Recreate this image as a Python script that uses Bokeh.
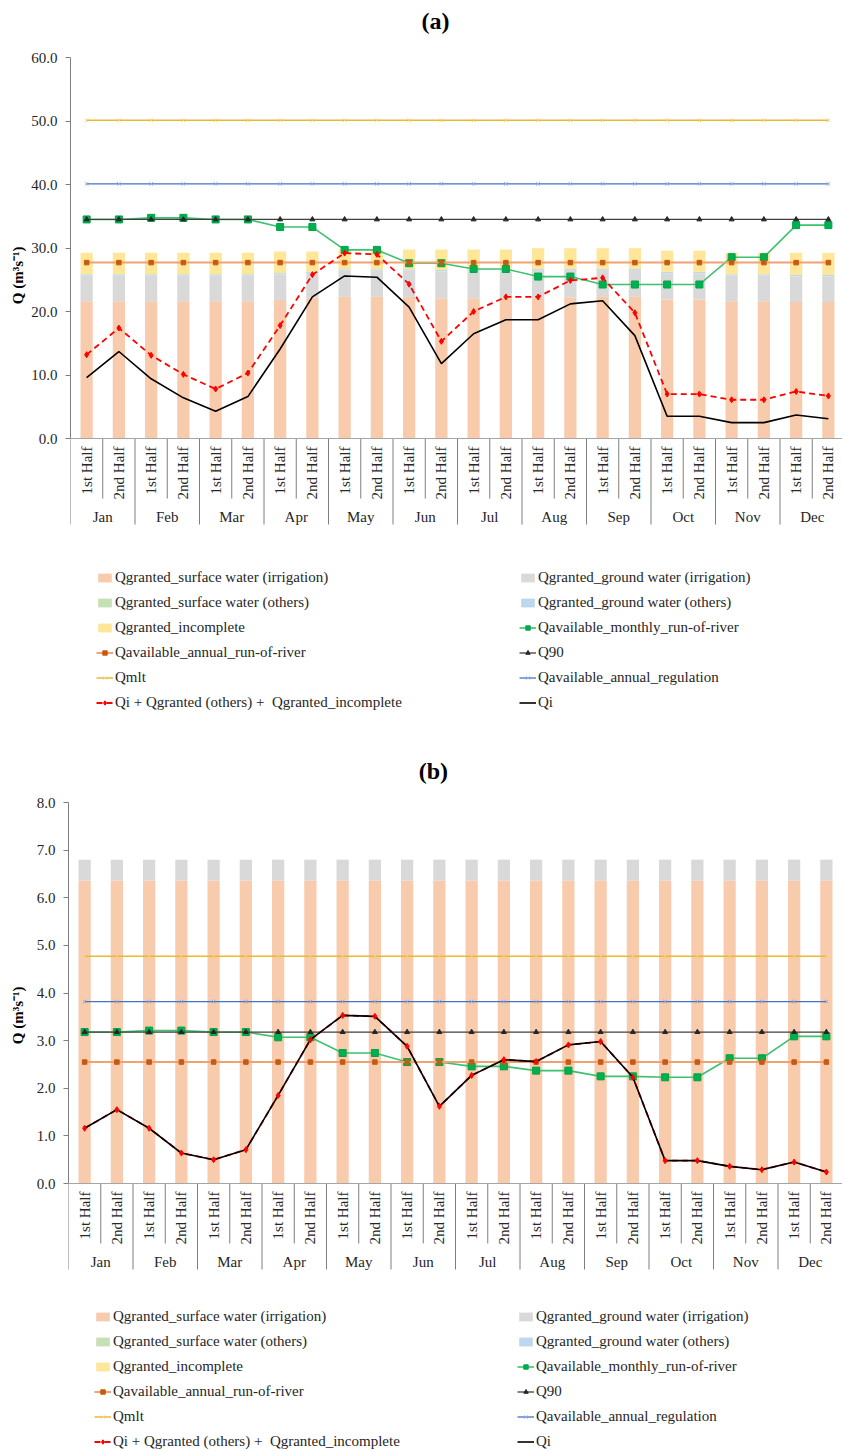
import math
from bokeh.plotting import figure
from bokeh.models import (FactorRange, Range1d, FixedTicker, NumeralTickFormatter,
                          Legend, LegendItem, Span, ColumnDataSource)
from bokeh.layouts import column, row
from bokeh.embed import file_html
from bokeh.resources import INLINE
from bokeh.core.properties import value

# ---------------- data ----------------
months = ["Jan", "Feb", "Mar", "Apr", "May", "Jun", "Jul", "Aug", "Sep", "Oct", "Nov", "Dec"]
halves = ["1st Half", "2nd Half"]

legend_left = ["Qgranted_surface water (irrigation)", "Qgranted_surface water (others)",
               "Qgranted_incomplete", "Qavailable_annual_run-of-river", "Qmlt",
               "Qi + Qgranted (others) +  Qgranted_incomplete"]
legend_right = ["Qgranted_ground water (irrigation)", "Qgranted_ground water (others)",
                "Qavailable_monthly_run-of-river", "Q90", "Qavailable_annual_regulation", "Qi"]
y_label = "Q (m³s⁻¹)"

# Panel (a)
a_surface_irrigation = [21.6, 21.6, 21.6, 21.6, 21.6, 21.6, 21.8, 22.2, 22.3, 22.3, 22.3, 22.1,
                        22.1, 22.1, 22.2, 22.2, 22.3, 22.3, 21.9, 21.9, 21.6, 21.6, 21.5, 21.5]
a_ground_irrigation = [4.0, 4.0, 4.0, 4.0, 4.0, 4.0, 4.0, 3.8, 4.1, 4.1, 4.1, 4.2,
                       4.2, 4.2, 4.3, 4.3, 4.2, 4.2, 4.1, 4.1, 4.0, 4.0, 4.0, 4.0]
a_surface_others = 0.05
a_ground_others = 0.2
a_incomplete = [3.4, 3.4, 3.4, 3.4, 3.4, 3.4, 3.4, 3.2, 3.1, 3.1, 3.1, 3.2,
                3.2, 3.2, 3.2, 3.2, 3.2, 3.2, 3.3, 3.3, 3.4, 3.4, 3.5, 3.5]
a_monthly_ror = [34.5, 34.5, 34.75, 34.75, 34.5, 34.5, 33.3, 33.3, 29.7, 29.7, 27.6, 27.6,
                 26.7, 26.7, 25.5, 25.5, 24.25, 24.25, 24.25, 24.25, 28.55, 28.55, 33.6, 33.6]
a_annual_ror = 27.7
a_q90 = 34.5
a_qmlt = 50.1
a_regulation = 40.1
a_qi_plus = [13.2, 17.4, 13.1, 10.1, 7.8, 10.3, 17.8, 25.8, 29.2, 29.0, 24.3, 15.3,
             20.0, 22.3, 22.3, 24.9, 25.3, 19.8, 7.0, 7.0, 6.1, 6.1, 7.4, 6.7]
a_qi = [9.6, 13.7, 9.4, 6.4, 4.3, 6.6, 14.1, 22.3, 25.6, 25.4, 20.7, 11.8,
        16.5, 18.7, 18.7, 21.2, 21.7, 16.2, 3.5, 3.5, 2.5, 2.5, 3.7, 3.1]
a_ticks = [0, 10, 20, 30, 40, 50, 60]

# Panel (b)
b_surface_irrigation = 6.36
b_ground_irrigation = 0.44
b_surface_others = 0.0
b_ground_others = 0.0
b_incomplete = 0.0
b_monthly_ror = [3.18, 3.18, 3.21, 3.21, 3.18, 3.18, 3.07, 3.07, 2.74, 2.74, 2.55, 2.55,
                 2.46, 2.46, 2.37, 2.37, 2.25, 2.25, 2.23, 2.23, 2.63, 2.63, 3.09, 3.09]
b_annual_ror = 2.55
b_q90 = 3.18
b_qmlt = 4.77
b_regulation = 3.82
b_qi_plus = [1.16, 1.55, 1.16, 0.64, 0.50, 0.71, 1.85, 3.02, 3.53, 3.51, 2.88, 1.62,
             2.27, 2.60, 2.56, 2.91, 2.98, 2.23, 0.48, 0.48, 0.36, 0.29, 0.45, 0.24]
b_qi = [1.16, 1.55, 1.16, 0.64, 0.50, 0.71, 1.85, 3.02, 3.53, 3.51, 2.88, 1.62,
        2.27, 2.60, 2.56, 2.91, 2.98, 2.23, 0.48, 0.48, 0.36, 0.29, 0.45, 0.24]
b_ticks = [0, 1, 2, 3, 4, 5, 6, 7, 8]

# ---------------- styling ----------------
FONT = "Liberation Serif"
TXT = "#262626"
AXC = "#7F7F7F"
BAR_COLORS = ["#F8CBAD", "#D9D9D9", "#C5E0B4", "#BDD7EE", "#FFE699"]
LABEL_W = 28
AXIS_W = 40
FRAME_W = 774

factors = [(m, h) for m in months for h in halves]
N = len(factors)


def as_list(v):
    return list(v) if isinstance(v, (list, tuple)) else [v] * N


def build(tag, surf_irr, gw_irr, surf_oth, gw_oth, incomp, monthly, ror, q90, mlt, reg,
          qi_plus, qi, ticks, ppu, top_px, total_h, title_dy, ylabel_y):
    y_max = ticks[-1]
    y_end = y_max + top_px / ppu
    y_start = y_end - total_h / ppu
    yr = Range1d(y_start, y_end)
    src = ColumnDataSource(dict(
        x=factors,
        surf_irr=as_list(surf_irr), gw_irr=as_list(gw_irr), surf_oth=as_list(surf_oth),
        gw_oth=as_list(gw_oth), incomp=as_list(incomp),
        monthly=as_list(monthly), ror=as_list(ror), q90=as_list(q90),
        mlt=as_list(mlt), reg=as_list(reg), qi_plus=as_list(qi_plus), qi=as_list(qi),
    ))
    p = figure(
        x_range=FactorRange(factors=factors, factor_padding=0, subgroup_padding=0,
                            group_padding=0, range_padding=0),
        y_range=yr,
        frame_width=FRAME_W, frame_height=total_h,
        min_border_left=AXIS_W, min_border_right=0, min_border_top=0, min_border_bottom=0,
        x_axis_location=None, output_backend="svg", toolbar_location=None, tools="",
    )
    p.outline_line_color = None
    p.background_fill_color = "white"
    p.border_fill_color = "white"
    p.xgrid.visible = False
    p.ygrid.visible = False

    ax = p.yaxis[0]
    ax.ticker = FixedTicker(ticks=ticks)
    ax.formatter = NumeralTickFormatter(format="0.0")
    ax.bounds = (0, y_max)
    ax.axis_line_color = AXC
    ax.major_tick_line_color = AXC
    ax.major_tick_out = 5
    ax.major_tick_in = 0
    ax.minor_tick_line_color = None
    ax.major_label_text_font = FONT
    ax.major_label_text_font_size = "15px"
    ax.major_label_text_color = TXT
    ax.major_label_standoff = 8

    # panel title
    p.text(x=[("Jun", "2nd Half")], y=[y_max], text=[tag], x_offset=-6, y_offset=title_dy,
           text_align="center", text_baseline="middle", text_font=value(FONT),
           text_font_size="24px", text_font_style="bold", text_color="black")

    # stacked bars
    bars = p.vbar_stack(["surf_irr", "gw_irr", "surf_oth", "gw_oth", "incomp"], x="x",
                        width=0.38, fill_color=BAR_COLORS, line_color=None, source=src)

    # lines
    r_mon_l = p.line("x", "monthly", source=src, line_color="#3CC26E", line_width=1.6)
    r_mon_m = p.scatter("x", "monthly", source=src, marker="square", size=7,
                        fill_color="#00B050", line_color="#00A347")
    r_ror_l = p.line("x", "ror", source=src, line_color="#F0A274", line_width=2)
    r_ror_m = p.scatter("x", "ror", source=src, marker="square", size=4.5,
                        fill_color="#C55A11", line_color="#C55A11")
    r_q90_l = p.line("x", "q90", source=src, line_color="#404040", line_width=1.3)
    r_q90_m = p.scatter("x", "q90", source=src, marker="triangle", size=5,
                        fill_color="#262626", line_color="#262626")
    r_mlt_l = p.line("x", "mlt", source=src, line_color="#EBB830", line_width=1.5)
    r_mlt_m = p.scatter("x", "mlt", source=src, marker="x", size=5, line_color="#F3D27C")
    r_reg_l = p.line("x", "reg", source=src, line_color="#4472C4", line_width=1.3)
    r_reg_m = p.scatter("x", "reg", source=src, marker="x", size=5, line_color="#8EA9DB")
    r_red_l = p.line("x", "qi_plus", source=src, line_color="#FF0000", line_width=1.8,
                     line_dash="6 4")
    r_qi_l = p.line("x", "qi", source=src, line_color="#000000", line_width=1.6)
    r_red_m = p.scatter("x", "qi_plus", source=src, marker="diamond", size=6,
                        fill_color="#FF0000", line_color="#FF0000")

    # category axis (drawn in the plot area below zero)
    p.add_layout(Span(location=0, dimension="width", line_color="#A6A6A6", line_width=1))
    sep_half = [(m, "1st Half", 0.5) for m in months]
    sep_month = [(m, "1st Half", -0.5) for m in months] + [("Dec", "2nd Half", 0.5)]
    p.segment(x0=sep_half, y0=0, x1=sep_half, y1=-60 / ppu, line_color=AXC, line_width=1)
    p.segment(x0=sep_month, y0=0, x1=sep_month, y1=-86 / ppu, line_color=AXC, line_width=1)
    p.text(x=factors, y=[0] * N, text=[h for _, h in factors], angle=math.pi / 2,
           text_align="right", text_baseline="middle", y_offset=8,
           text_font=value(FONT), text_font_size="15px", text_color=TXT)
    p.text(x=months, y=[0] * len(months), text=months, text_align="center",
           text_baseline="middle", y_offset=78,
           text_font=value(FONT), text_font_size="15px", text_color=TXT)

    rend_left = [[bars[0]], [bars[2]], [bars[4]], [r_ror_l, r_ror_m], [r_mlt_l, r_mlt_m],
                 [r_red_l, r_red_m]]
    rend_right = [[bars[1]], [bars[3]], [r_mon_l, r_mon_m], [r_q90_l, r_q90_m],
                  [r_reg_l, r_reg_m], [r_qi_l]]
    for labels, rends, xloc in ((legend_left, rend_left, 26), (legend_right, rend_right, 449)):
        items = [LegendItem(label=lab, renderers=rs) for lab, rs in zip(labels, rends)]
        leg = Legend(items=items, location=(xloc, 0),
                     margin=0, padding=4, spacing=8,
                     label_height=17, glyph_width=17, glyph_height=11, label_standoff=2,
                     label_text_font=FONT, label_text_font_size="15px", label_text_color=TXT,
                     border_line_color=None, background_fill_alpha=0)
        p.add_layout(leg)

    # y-axis title in its own narrow strip, sharing the y range
    q = figure(x_range=Range1d(0, 1), y_range=yr, frame_width=LABEL_W, frame_height=total_h,
               min_border_left=0, min_border_right=0, min_border_top=0, min_border_bottom=0,
               x_axis_location=None, y_axis_location=None, output_backend="svg",
               toolbar_location=None, tools="")
    q.outline_line_color = None
    q.xgrid.visible = False
    q.ygrid.visible = False
    q.text(x=[0.64], y=[ylabel_y], text=[y_label], angle=math.pi / 2, text_align="center",
           text_baseline="middle", text_font=value(FONT), text_font_size="15px",
           text_font_style="bold", text_color="black")
    return row(q, p, spacing=0)


pa = build("(a)", a_surface_irrigation, a_ground_irrigation, a_surface_others, a_ground_others,
           a_incomplete, a_monthly_ror, a_annual_ror, a_q90, a_qmlt, a_regulation,
           a_qi_plus, a_qi, a_ticks, ppu=6.35, top_px=57, total_h=711,
           title_dy=-37, ylabel_y=25.7)
pb = build("(b)", b_surface_irrigation, b_ground_irrigation, b_surface_others, b_ground_others,
           b_incomplete, b_monthly_ror, b_annual_ror, b_q90, b_qmlt, b_regulation,
           b_qi_plus, b_qi, b_ticks, ppu=47.625, top_px=91, total_h=739,
           title_dy=-32, ylabel_y=3.53)

layout = column(pa, pb, spacing=0)
open("out.html", "w").write(file_html(layout, INLINE))
